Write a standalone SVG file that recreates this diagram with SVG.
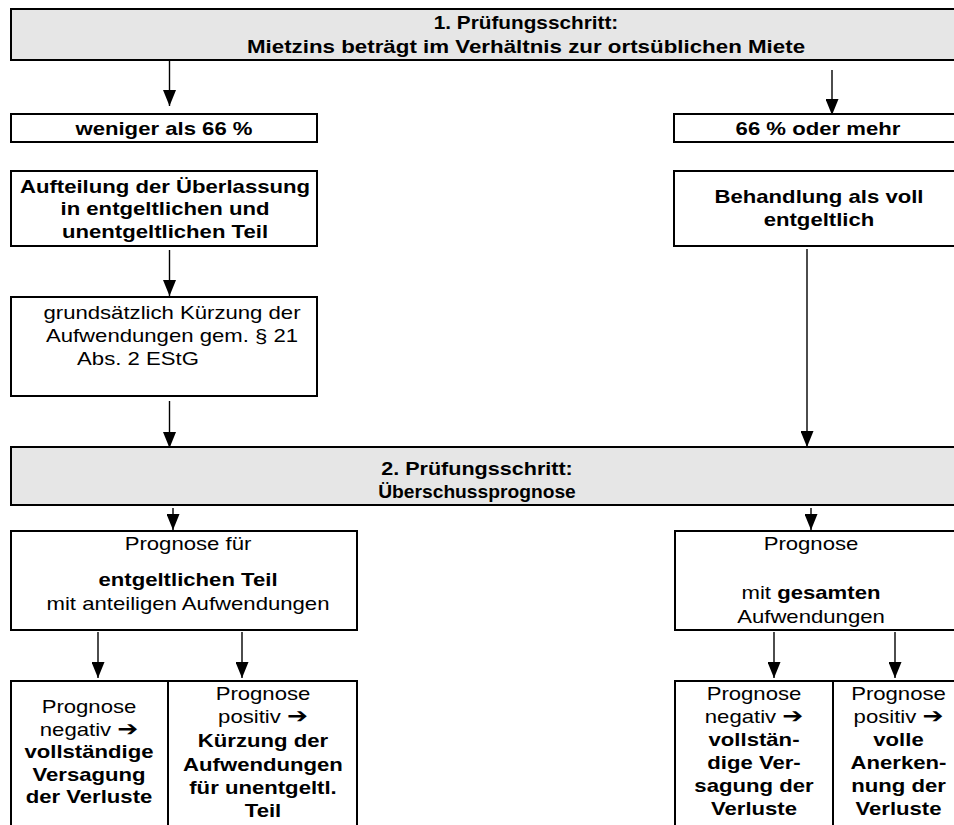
<svg xmlns="http://www.w3.org/2000/svg" width="954" height="825" viewBox="0 0 954 825">
<style>
.box{fill:#fff;stroke:#000;stroke-width:2}
.hdr{fill:#e6e6e6;stroke:#000;stroke-width:2}
.t{font-family:"Liberation Sans",Arial,sans-serif;font-size:18.6px;fill:#000;text-anchor:middle}
.b{font-weight:bold}
.ar{font-family:"DejaVu Sans",sans-serif;font-weight:bold;font-size:21px}
.c{stroke:#000;stroke-width:1.4;fill:none;marker-end:url(#ah)}
</style>
<defs>
<marker id="ah" viewBox="0 0 16 13" refX="16" refY="6.5" markerWidth="16" markerHeight="13" markerUnits="userSpaceOnUse" orient="auto">
<path d="M0,0 L16,6.5 L0,13 z" fill="#000"/>
</marker>
</defs>
<g id="step1">
<rect class="hdr" x="11" y="9" width="1040" height="51"/>
<text class="t b" transform="matrix(1.19 0 0 1 526 0)"><tspan x="0" y="29" textLength="155" lengthAdjust="spacingAndGlyphs">1. Prüfungsschritt:</tspan><tspan x="0" y="52.7" textLength="469" lengthAdjust="spacingAndGlyphs">Mietzins beträgt im Verhältnis zur ortsüblichen Miete</tspan></text>
</g>
<g id="less66">
<rect class="box" x="11" y="114" width="306" height="28"/>
<text class="t b" transform="matrix(1.19 0 0 1 164 0)" x="0" y="135">weniger als 66 %</text>
</g>
<g id="more66">
<rect class="box" x="674" y="114" width="300" height="28"/>
<text class="t b" transform="matrix(1.19 0 0 1 818 0)" x="0" y="135">66 % oder mehr</text>
</g>
<g id="aufteilung">
<rect class="box" x="11" y="171" width="306" height="75"/>
<text class="t b" transform="matrix(1.19 0 0 1 165 0)"><tspan x="0" y="193">Aufteilung der Überlassung</tspan><tspan x="0" y="215.5">in entgeltlichen und</tspan><tspan x="0" y="238">unentgeltlichen Teil</tspan></text>
</g>
<g id="behandlung">
<rect class="box" x="674" y="171" width="300" height="75"/>
<text class="t b" transform="matrix(1.19 0 0 1 819 0)"><tspan x="0" y="203">Behandlung als voll</tspan><tspan x="0" y="226.5">entgeltlich</tspan></text>
</g>
<g id="kuerzung">
<rect class="box" x="11" y="297" width="306" height="99"/>
<text class="t" transform="matrix(1.19 0 0 1 172 0)"><tspan x="0" y="319">grundsätzlich Kürzung der</tspan><tspan x="0" y="342">Aufwendungen gem. § 21</tspan></text>
<text class="t" transform="matrix(1.19 0 0 1 138 0)" x="0" y="365">Abs. 2 EStG</text>
</g>
<g id="step2">
<rect class="hdr" x="11" y="447" width="1040" height="58"/>
<text class="t b" transform="matrix(1.19 0 0 1 477 0)"><tspan x="0" y="475" textLength="161" lengthAdjust="spacingAndGlyphs">2. Prüfungsschritt:</tspan><tspan x="0" y="498" textLength="166" lengthAdjust="spacingAndGlyphs">Überschussprognose</tspan></text>
</g>
<g id="prognose-teil">
<rect class="box" x="11" y="531" width="346" height="99"/>
<text class="t" transform="matrix(1.19 0 0 1 188 0)"><tspan x="0" y="550.5">Prognose für</tspan><tspan x="0" y="586" class="b">entgeltlichen Teil</tspan><tspan x="0" y="610">mit anteiligen Aufwendungen</tspan></text>
</g>
<g id="prognose-gesamt">
<rect class="box" x="675" y="531" width="300" height="99"/>
<text class="t" transform="matrix(1.19 0 0 1 811 0)"><tspan x="0" y="550.5">Prognose</tspan><tspan x="0" y="599.5">mit <tspan class="b">gesamten</tspan></tspan><tspan x="0" y="623.5">Aufwendungen</tspan></text>
</g>
<g id="teil-negativ">
<rect class="box" x="11" y="681" width="157" height="160"/>
<text class="t" transform="matrix(1.19 0 0 1 89 0)"><tspan x="0" y="713">Prognose</tspan><tspan x="0" y="736">negativ <tspan class="ar">➔</tspan></tspan><tspan x="0" y="758.5" class="b">vollständige</tspan><tspan x="0" y="781" class="b">Versagung</tspan><tspan x="0" y="803.5" class="b">der Verluste</tspan></text>
</g>
<g id="teil-positiv">
<rect class="box" x="168" y="681" width="189" height="160"/>
<text class="t" transform="matrix(1.19 0 0 1 263 0)"><tspan x="0" y="700">Prognose</tspan><tspan x="0" y="723">positiv <tspan class="ar">➔</tspan></tspan><tspan x="0" y="747" class="b">Kürzung der</tspan><tspan x="0" y="771" class="b">Aufwendungen</tspan><tspan x="0" y="794.5" class="b">für unentgeltl.</tspan><tspan x="0" y="817.5" class="b">Teil</tspan></text>
</g>
<g id="gesamt-negativ">
<rect class="box" x="675" y="681" width="158" height="160"/>
<text class="t" transform="matrix(1.19 0 0 1 754 0)"><tspan x="0" y="700">Prognose</tspan><tspan x="0" y="723">negativ <tspan class="ar">➔</tspan></tspan><tspan x="0" y="746.5" class="b">vollstän-</tspan><tspan x="0" y="769.5" class="b">dige Ver-</tspan><tspan x="0" y="792.5" class="b">sagung der</tspan><tspan x="0" y="815.5" class="b">Verluste</tspan></text>
</g>
<g id="gesamt-positiv">
<rect class="box" x="833" y="681" width="131" height="160"/>
<text class="t" transform="matrix(1.19 0 0 1 898.5 0)"><tspan x="0" y="700">Prognose</tspan><tspan x="0" y="723">positiv <tspan class="ar">➔</tspan></tspan><tspan x="0" y="746.5" class="b">volle</tspan><tspan x="0" y="769.5" class="b">Anerken-</tspan><tspan x="0" y="792.5" class="b">nung der</tspan><tspan x="0" y="815.5" class="b">Verluste</tspan></text>
</g>
<g id="connectors">
<line class="c" x1="169.5" y1="61" x2="169.5" y2="106"/>
<line class="c" x1="832" y1="70" x2="832" y2="115"/>
<line class="c" x1="169.5" y1="250" x2="169.5" y2="296"/>
<line class="c" x1="807" y1="249" x2="807" y2="447"/>
<line class="c" x1="169.5" y1="401" x2="169.5" y2="448"/>
<line class="c" x1="173" y1="508" x2="173" y2="530"/>
<line class="c" x1="811" y1="508" x2="811" y2="530"/>
<line class="c" x1="98" y1="632" x2="98" y2="678"/>
<line class="c" x1="242" y1="632" x2="242" y2="678"/>
<line class="c" x1="774" y1="632" x2="774" y2="678"/>
<line class="c" x1="895" y1="632" x2="895" y2="678"/>
</g>
</svg>
